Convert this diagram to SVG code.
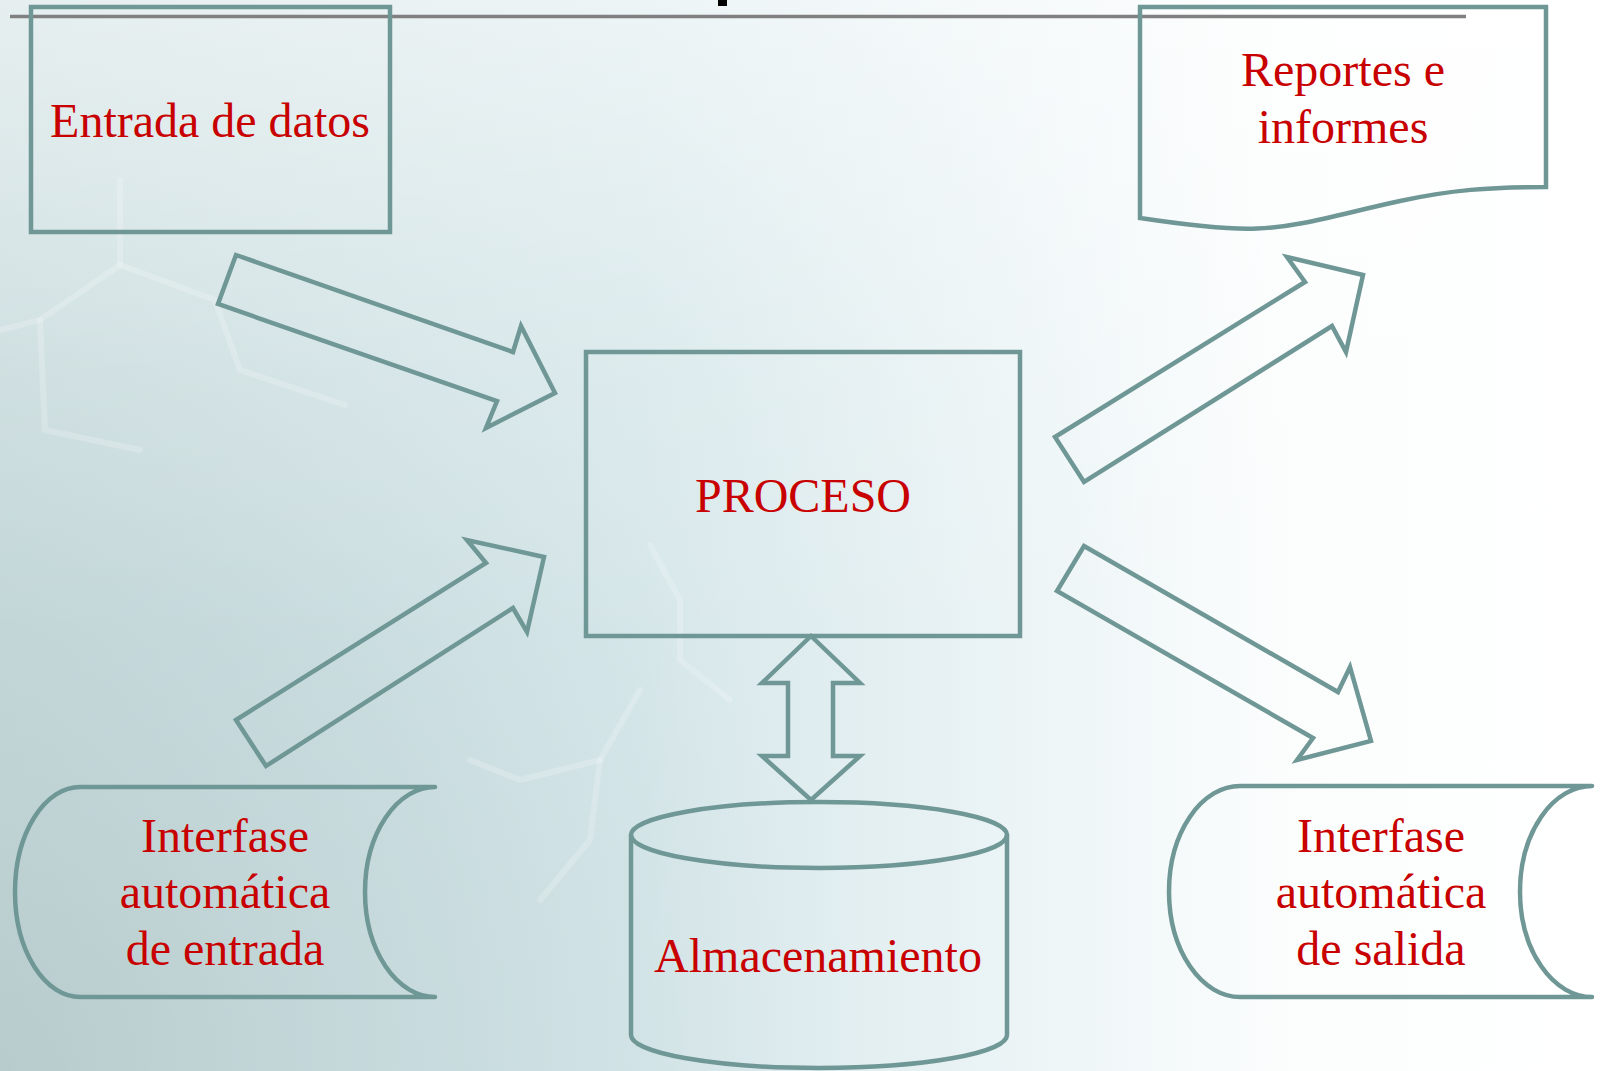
<svg xmlns="http://www.w3.org/2000/svg" width="1600" height="1071" viewBox="0 0 1600 1071">
<defs>
<linearGradient id="bgH" x1="0" y1="0" x2="1" y2="0">
<stop offset="0" stop-color="#c8dbdd"/>
<stop offset="0.4" stop-color="#d6e7ea"/>
<stop offset="0.62" stop-color="#eaf3f5"/>
<stop offset="0.8" stop-color="#fbfdfd"/>
<stop offset="1" stop-color="#ffffff"/>
</linearGradient>
<radialGradient id="bgDark" cx="0" cy="1071" r="850" gradientUnits="userSpaceOnUse">
<stop offset="0" stop-color="#acc1c2" stop-opacity="0.6"/>
<stop offset="0.6" stop-color="#b8cccd" stop-opacity="0.3"/>
<stop offset="1" stop-color="#c6d9db" stop-opacity="0"/>
</radialGradient>
<linearGradient id="bgTop" x1="0" y1="0" x2="0" y2="1">
<stop offset="0" stop-color="#ffffff" stop-opacity="0.55"/>
<stop offset="0.35" stop-color="#ffffff" stop-opacity="0.15"/>
<stop offset="0.6" stop-color="#ffffff" stop-opacity="0"/>
</linearGradient>
<style>
.shape{fill:none;stroke:#6f9795;stroke-width:4.5;stroke-linejoin:miter;stroke-linecap:round}
.lbl{font-family:"Liberation Serif","Times New Roman",serif;font-size:48px;fill:#c80000;text-anchor:middle}
</style>
</defs>
<rect x="0" y="0" width="1600" height="1071" fill="url(#bgH)"/>
<rect x="0" y="0" width="1600" height="1071" fill="url(#bgDark)"/>
<rect x="0" y="0" width="1600" height="1071" fill="url(#bgTop)"/>
<g id="watermark" fill="none" stroke="#ffffff" stroke-opacity="0.2" stroke-width="6" stroke-linecap="round">
<polyline points="0,330 40,320 120,265 120,180"/>
<polyline points="40,320 45,430 140,450"/>
<polyline points="120,265 215,300 240,370 300,390 345,405"/>
<polyline points="650,545 680,600 680,660 730,700"/>
<polyline points="640,690 600,760 520,780 470,760"/>
<polyline points="600,760 590,840 540,900"/>
</g>
<rect x="718" y="0" width="9" height="6" fill="#000000"/>
<line x1="10" y1="16.5" x2="1466" y2="16.5" stroke="#808080" stroke-width="3.5"/>
<g id="entrada-datos">
<rect class="shape" x="31" y="7" width="359" height="225" stroke-linecap="butt"/>
<text class="lbl" x="210" y="137">Entrada de datos</text>
</g>
<g id="reportes">
<path class="shape" d="M1140,218 L1140,7 L1546,7 L1546,187 C1490,187 1450,190 1400,201 C1340,214 1300,227 1257,228.5 C1225,230 1180,224 1140,218 Z"/>
<text class="lbl" x="1343" y="86">Reportes e</text>
<text class="lbl" x="1343" y="143">informes</text>
</g>
<g id="proceso">
<rect class="shape" x="586" y="352" width="434" height="284"/>
<text class="lbl" x="803" y="512">PROCESO</text>
</g>
<g id="interfase-entrada">
<path class="shape" d="M435,787 L80,787 A65,105 0 0 0 80,997 L435,997 M435,787 A70,105 0 0 0 435,997"/>
<text class="lbl" x="225" y="852">Interfase</text>
<text class="lbl" x="225" y="908">automática</text>
<text class="lbl" x="225" y="965">de entrada</text>
</g>
<g id="almacenamiento">
<path class="shape" d="M631,835 L631,1035 A188,33 0 0 0 1007,1035 L1007,835"/>
<ellipse class="shape" cx="819" cy="835" rx="188" ry="33"/>
<text class="lbl" x="818" y="972">Almacenamiento</text>
</g>
<g id="interfase-salida">
<path class="shape" d="M1592,786 L1240,786 A71,105.5 0 0 0 1240,997 L1592,997 M1592,786 A72,105.5 0 0 0 1592,997"/>
<text class="lbl" x="1381" y="852">Interfase</text>
<text class="lbl" x="1381" y="908">automática</text>
<text class="lbl" x="1381" y="965">de salida</text>
</g>
<g id="connectors">
<polygon class="shape" points="236,255 513,352 521,326 555,393 486,428 497,401 218,304"/>
<polygon class="shape" points="236,720 486,563 467,540 544,557 527,632 513,608 266,766"/>
<polygon class="shape" points="1055,437 1305,282 1287,257 1363,275 1346,352 1332,326 1084,482"/>
<polygon class="shape" points="1084,546 1338,692 1350,667 1371,741 1297,760 1313,738 1057,591"/>
<polygon class="shape" points="811,636 860,683 833,683 833,756 860,756 811,800 762,756 788,756 788,683 762,683"/>
</g>
</svg>
